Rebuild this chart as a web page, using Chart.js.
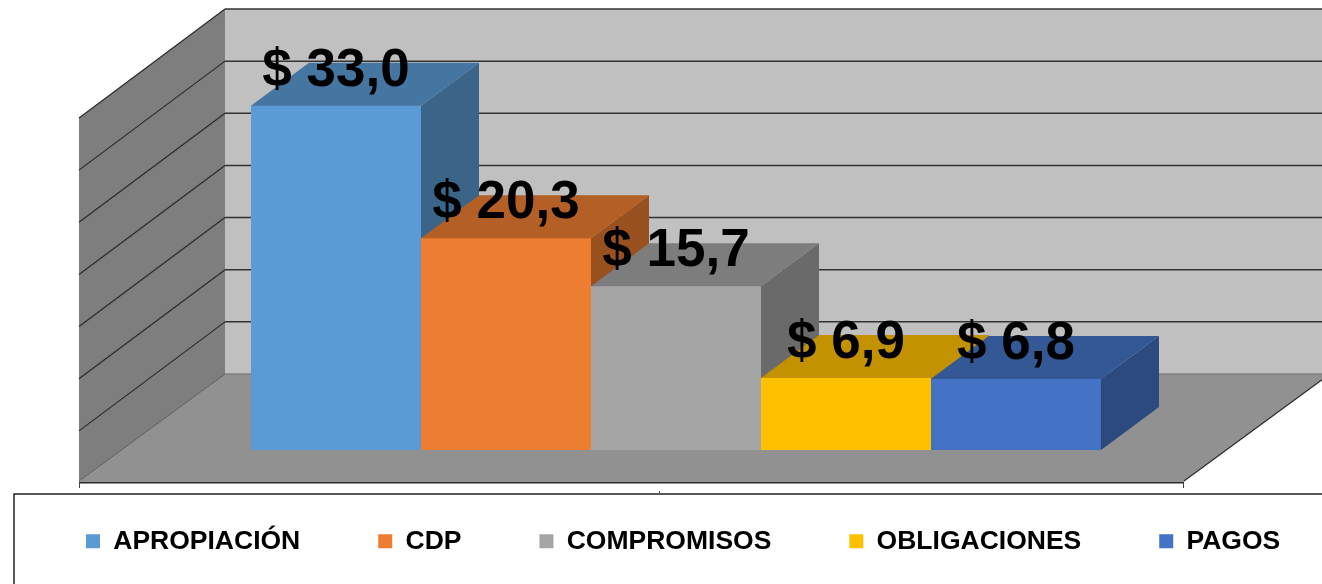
<!DOCTYPE html>
<html>
<head>
<meta charset="utf-8">
<style>
  html, body { margin: 0; padding: 0; background: #fff; overflow: hidden; }
  canvas { display: block; }
</style>
<script src="https://cdn.jsdelivr.net/npm/chart.js@4"></script>
</head>
<body>
<canvas id="chart" width="1322" height="584"></canvas>
<script>
const categories = ['2016'];
const seriesNames = ['APROPIACIÓN', 'CDP', 'COMPROMISOS', 'OBLIGACIONES', 'PAGOS'];
const seriesValues = [33.0, 20.3, 15.7, 6.9, 6.8];
const seriesColors = ['#5B9BD5', '#ED7D31', '#A5A5A5', '#FFC000', '#4472C4'];

const FONT = '"Liberation Sans", Arial, sans-serif';

// depth of the fake 3D box, measured from the plane of the bar fronts
const barDepthX = 58, barDepthY = 43;
const backX = 101, backY = 76;
const frontX = 45, frontY = 31;
const leftWallDrop = 109;

function shade(hex, f) {
  const n = parseInt(hex.slice(1), 16);
  return `rgb(${Math.round((n >> 16) * f)}, ${Math.round(((n >> 8) & 255) * f)}, ${Math.round((n & 255) * f)})`;
}

function poly(ctx, pts, fill) {
  ctx.beginPath();
  pts.forEach((p, i) => i ? ctx.lineTo(p[0], p[1]) : ctx.moveTo(p[0], p[1]));
  ctx.closePath();
  ctx.fillStyle = fill;
  ctx.fill();
}

function line(ctx, x1, y1, x2, y2, color, width) {
  ctx.beginPath();
  ctx.moveTo(x1, y1);
  ctx.lineTo(x2, y2);
  ctx.strokeStyle = color;
  ctx.lineWidth = width;
  ctx.stroke();
}

// walls, floor, grid lines and the box around the legend
const wallsPlugin = {
  id: 'walls',
  beforeDraw(chart) {
    const { ctx, chartArea: a, scales: { y } } = chart;
    const base = y.getPixelForValue(0);
    const top = y.getPixelForValue(35);
    const fl = a.left - frontX, fr = a.right - frontX + 1;
    const bl = a.left + backX, br = a.right + backX + 1;
    const fy = base + frontY, by = base - backY;
    const wallTop = top - backY;

    ctx.save();
    poly(ctx, [[bl, wallTop], [chart.width, wallTop], [chart.width, by], [bl, by]], '#C0C0C0');
    poly(ctx, [[fl, wallTop + leftWallDrop], [bl, wallTop], [bl, by], [fl, fy]], '#7E7E7E');
    poly(ctx, [[fl, fy], [bl, by], [br, by], [fr, fy]], '#919191');

    y.ticks.forEach(t => {
      const py = y.getPixelForValue(t.value) - backY;
      const isFloor = t.value === 0;
      line(ctx, bl, py, chart.width, py, isFloor ? '#7F7F7F' : '#333333', 1.5);
      if (!isFloor) line(ctx, bl, py, fl, py + leftWallDrop, '#2A2A2A', 1.2);
    });
    line(ctx, fl, fy, bl, by, '#5A5A5A', 1);
    line(ctx, fr, fy, br, by, '#2A2A2A', 1.2);
    line(ctx, fl, fy + 1.5, fr, fy + 1.5, '#2A2A2A', 2);
    line(ctx, fl + 0.5, fy + 2, fl + 0.5, fy + 7, '#444444', 1);
    line(ctx, fr - 0.5, fy + 2, fr - 0.5, fy + 7, '#444444', 1);
    line(ctx, 659.5, fy + 10, 659.5, fy + 12, '#444444', 1);

    ctx.strokeStyle = '#222222';
    ctx.lineWidth = 1.5;
    ctx.strokeRect(14, 494, chart.width + 20, chart.height);
    ctx.restore();
  },
  beforeDatasetsDraw(chart) {
    const { ctx } = chart;
    ctx.save();
    chart.data.datasets.forEach((ds, i) => {
      const bar = chart.getDatasetMeta(i).data[0];
      const l = bar.x - bar.width / 2, r = bar.x + bar.width / 2;
      poly(ctx, [[r, bar.y], [r + barDepthX, bar.y - barDepthY], [r + barDepthX, bar.base - barDepthY], [r, bar.base]], shade(ds.backgroundColor, 0.645));
      // top face runs 1px under the front so no seam shows through
      poly(ctx, [[l, bar.y + 1], [l, bar.y], [l + barDepthX, bar.y - barDepthY], [r + barDepthX, bar.y - barDepthY], [r, bar.y], [r, bar.y + 1]], shade(ds.backgroundColor, 0.76));
    });
    ctx.restore();
  },
  afterDatasetsDraw(chart) {
    const { ctx } = chart;
    ctx.save();
    ctx.fillStyle = '#000';
    ctx.font = `bold 53px ${FONT}`;
    ctx.textAlign = 'center';
    ctx.textBaseline = 'alphabetic';
    chart.data.datasets.forEach((ds, i) => {
      const bar = chart.getDatasetMeta(i).data[0];
      ctx.fillText('$ ' + ds.data[0].toFixed(1).replace('.', ','), bar.x, bar.y - 20);
    });
    ctx.restore();
  }
};

new Chart(document.getElementById('chart'), {
  type: 'bar',
  data: {
    labels: categories,
    datasets: seriesNames.map((name, i) => ({
      label: name,
      data: [seriesValues[i]],
      backgroundColor: seriesColors[i],
      barPercentage: 1,
      categoryPercentage: 850 / 1104
    }))
  },
  options: {
    responsive: false,
    animation: false,
    // negative right padding: the legend keeps one row with its wide gaps
    layout: { padding: { left: 8, right: -40, top: 85, bottom: 19.5 } },
    scales: {
      x: { display: false },
      y: {
        min: 0,
        max: 35,
        ticks: { stepSize: 5, display: false },
        grid: { display: false },
        border: { display: false },
        afterFit(s) { s.width = 116; }
      },
      yRight: {
        position: 'right',
        min: 0,
        max: 35,
        ticks: { display: false },
        grid: { display: false },
        border: { display: false },
        afterFit(s) { s.width = 134; }
      }
    },
    plugins: {
      tooltip: { enabled: false },
      legend: {
        position: 'bottom',
        align: 'start',
        labels: {
          boxWidth: 14,
          boxHeight: 14,
          padding: 78,
          color: '#000',
          font: { family: FONT, size: 26.5, weight: 'bold', lineHeight: 1 }
        }
      }
    }
  },
  plugins: [wallsPlugin]
});
</script>
</body>
</html>
